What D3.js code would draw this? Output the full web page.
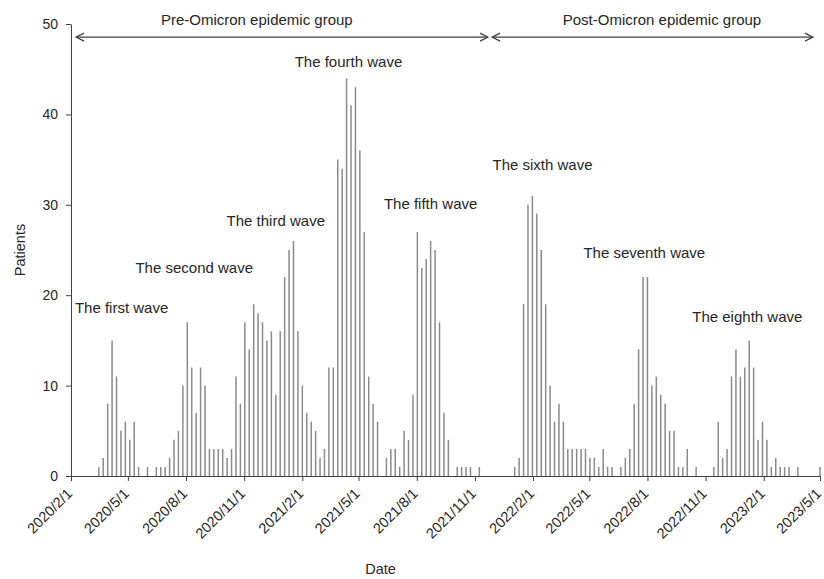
<!DOCTYPE html>
<meta charset="utf-8">
<style>
    body { margin: 0; background: #fff; }
    text {
        font-family: "Liberation Sans", Arial, sans-serif;
        fill: #262626;
    }
    .bars line {
        stroke: #8a8a8a;
        stroke-width: 1.5px;
    }
    .axis path,
    .axis line {
        stroke: #404040;
        stroke-width: 1px;
    }
    .axis text { font-size: 14px; fill: #262626; }
    .x-axis text { font-size: 14.5px; }
    .arrows line { stroke: #404040; stroke-width: 1.2px; }
</style>
<svg width="824" height="579"></svg>
<script src="https://d3js.org/d3.v7.min.js"></script>
<script>
    // weekly counts, one bar per Monday starting at firstWeek
    const firstWeek = "2020/3/16";
    const weeklyPatients = [
        1, 2, 8, 15, 11, 5, 6, 4, 6, 1,
        0, 1, 0, 1, 1, 1, 2, 4, 5, 10,
        17, 12, 7, 12, 10, 3, 3, 3, 3, 2,
        3, 11, 8, 17, 14, 19, 18, 17, 15, 16,
        9, 16, 22, 25, 26, 16, 10, 7, 6, 5,
        2, 3, 12, 12, 35, 34, 44, 41, 43, 36,
        27, 11, 8, 6, 0, 2, 3, 3, 1, 5,
        4, 9, 27, 23, 24, 26, 25, 17, 7, 4,
        0, 1, 1, 1, 1, 0, 1, 0, 0, 0,
        0, 0, 0, 0, 1, 2, 19, 30, 31, 29,
        25, 19, 10, 6, 8, 6, 3, 3, 3, 3,
        3, 2, 2, 1, 3, 1, 1, 0, 1, 2,
        3, 8, 14, 22, 22, 10, 11, 9, 8, 5,
        5, 1, 1, 3, 0, 1, 0, 0, 0, 1,
        6, 2, 3, 11, 14, 11, 12, 15, 12, 4,
        6, 4, 1, 2, 1, 1, 1, 0, 1, 0,
        0, 0, 0, 1
    ];

    const xTickLabels = [
        "2020/2/1", "2020/5/1", "2020/8/1", "2020/11/1",
        "2021/2/1", "2021/5/1", "2021/8/1", "2021/11/1",
        "2022/2/1", "2022/5/1", "2022/8/1", "2022/11/1",
        "2023/2/1", "2023/5/1"
    ];
    const yTicks = [0, 10, 20, 30, 40, 50];

    const waveNames = ["The first wave", "The second wave", "The third wave", "The fourth wave",
        "The fifth wave", "The sixth wave", "The seventh wave", "The eighth wave"];
    const waveDates = ["2020/4/21", "2020/8/14", "2020/12/21", "2021/4/15",
        "2021/8/23", "2022/2/16", "2022/7/27", "2023/1/6"];
    const waveHeights = [18.0, 22.5, 27.7, 45.2, 29.5, 33.8, 24.1, 17.0];

    const groupNames = ["Pre-Omicron epidemic group", "Post-Omicron epidemic group"];
    const groupBounds = ["2020/2/1", "2021/11/25", "2023/5/1"];
    const groupLabelDates = ["2020/11/21", "2022/8/24"];

    const parse = d3.timeParse("%Y/%m/%d");
    const fmt = d => d.getFullYear() + "/" + (d.getMonth() + 1) + "/" + d.getDate();

    const svg = d3.select("svg");
    const margin = {top: 24, right: 4, bottom: 103, left: 71};
    const width = 824 - margin.left - margin.right;
    const height = 579 - margin.top - margin.bottom;

    const g = svg.append("g")
        .attr("transform", "translate(" + margin.left + "," + margin.top + ")");

    const tickDates = xTickLabels.map(parse);
    const x = d3.scaleTime()
        .domain([tickDates[0], tickDates[tickDates.length - 1]])
        .range([0, width]);
    const y = d3.scaleLinear()
        .domain([0, 50])
        .range([height, 0]);

    const start = parse(firstWeek);
    const weeks = weeklyPatients.map((v, i) => ({date: d3.timeDay.offset(start, 7 * i), value: v}));

    g.append("g")
        .attr("class", "bars")
        .selectAll("line")
        .data(weeks.filter(d => d.value > 0))
        .enter().append("line")
        .attr("x1", d => x(d.date))
        .attr("x2", d => x(d.date))
        .attr("y1", y(0))
        .attr("y2", d => y(d.value));

    // axes
    const xAxis = g.append("g")
        .attr("class", "axis x-axis")
        .attr("transform", "translate(0," + height + ")")
        .call(d3.axisBottom(x).tickValues(tickDates).tickFormat(fmt).tickSize(5).tickSizeOuter(0));
    xAxis.selectAll("text")
        .attr("x", 0)
        .attr("y", 0)
        .attr("dy", "0.35em")
        .attr("text-anchor", "end")
        .attr("transform", "translate(-2,15) rotate(-45)");

    g.append("g")
        .attr("class", "axis")
        .call(d3.axisLeft(y).tickValues(yTicks).tickSize(5).tickPadding(8).tickSizeOuter(0));

    // axis titles
    g.append("text")
        .attr("x", width / 2 - 65)
        .attr("y", height + 98)
        .attr("text-anchor", "middle")
        .style("font-size", "14.5px")
        .text("Date");
    g.append("text")
        .attr("transform", "translate(" + (-46) + "," + (height / 2) + ") rotate(-90)")
        .attr("text-anchor", "middle")
        .style("font-size", "14.5px")
        .text("Patients");

    // wave annotations
    g.append("g")
        .selectAll("text")
        .data(waveNames)
        .enter().append("text")
        .attr("x", (d, i) => x(parse(waveDates[i])))
        .attr("y", (d, i) => y(waveHeights[i]))
        .attr("text-anchor", "middle")
        .style("font-size", "15px")
        .text(d => d);

    // group arrows
    const defs = svg.append("defs");
    defs.append("marker")
        .attr("id", "chev")
        .attr("viewBox", "0 -5 10 10")
        .attr("refX", 9)
        .attr("refY", 0)
        .attr("markerUnits", "userSpaceOnUse")
        .attr("markerWidth", 10)
        .attr("markerHeight", 10)
        .attr("orient", "auto-start-reverse")
        .append("path")
        .attr("d", "M1,-4L9,0L1,4")
        .attr("fill", "none")
        .attr("stroke", "#404040")
        .attr("stroke-width", 1.2);

    const arrowY = y(48.55);
    const arrows = g.append("g").attr("class", "arrows");
    groupNames.forEach((name, i) => {
        const x0 = x(parse(groupBounds[i])) + (i === 0 ? 5 : 2);
        const x1 = x(parse(groupBounds[i + 1])) - (i === 0 ? 2 : 7);
        arrows.append("line")
            .attr("x1", x0).attr("x2", x1)
            .attr("y1", arrowY).attr("y2", arrowY)
            .attr("marker-start", "url(#chev)")
            .attr("marker-end", "url(#chev)");
        g.append("text")
            .attr("x", x(parse(groupLabelDates[i])))
            .attr("y", y(50) + 1)
            .attr("text-anchor", "middle")
            .style("font-size", "15px")
            .text(name);
    });
</script>
